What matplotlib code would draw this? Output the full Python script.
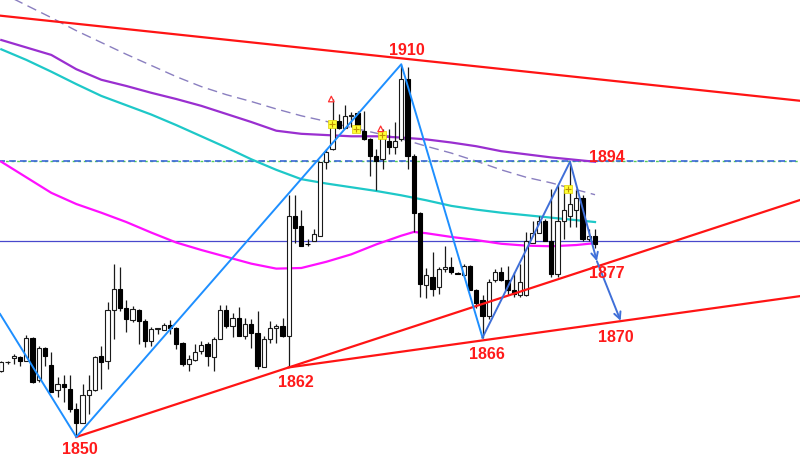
import numpy as np
import matplotlib.pyplot as plt

from matplotlib.figure import Figure
from matplotlib.axes import Axes

# candle data, one entry per bar (oldest first)
opens: list[float] = [
    1860.7, 1862.0, 1862.7, 1862.9, 1862.3, 1866.0, 1859.1, 1864.4, 1861.6, 1857.5,
    1858.5, 1857.8, 1854.5, 1852.3, 1856.7, 1857.5, 1863.1, 1862.3, 1870.4, 1873.8,
    1870.8, 1868.9, 1870.5, 1868.6, 1865.5, 1867.4, 1867.3, 1868.0, 1867.6, 1865.1,
    1861.7, 1862.4, 1863.9, 1864.9, 1862.9, 1865.8, 1870.4, 1867.8, 1869.1, 1866.3,
    1868.2, 1866.7, 1861.3, 1865.8, 1867.6, 1867.9, 1866.2, 1885.6, 1884.0, 1881.1,
    1881.6, 1882.4, 1894.2, 1896.3, 1900.9, 1899.8, 1901.6, 1902.2, 1899.3, 1898.0,
    1895.3, 1894.7, 1897.7, 1896.6, 1898.0, 1907.6, 1895.3, 1886.1, 1874.4, 1875.7,
    1874.2, 1877.0, 1877.4, 1876.4, 1876.0, 1877.6, 1873.7, 1872.0, 1869.5, 1875.2,
    1876.5, 1875.3, 1873.6, 1872.8, 1872.8, 1881.3, 1882.9, 1884.7, 1881.6, 1876.2,
    1884.8, 1885.6, 1886.5, 1888.5, 1881.9, 1882.3,
]
highs: list[float] = [
    1862.3, 1862.2, 1863.3, 1863.0, 1866.4, 1866.1, 1864.6, 1864.5, 1863.7, 1859.6,
    1859.9, 1859.9, 1855.5, 1858.5, 1860.0, 1863.1, 1864.7, 1871.7, 1877.8, 1877.4,
    1872.0, 1871.1, 1870.6, 1869.0, 1867.7, 1867.6, 1868.3, 1868.9, 1867.7, 1865.3,
    1863.2, 1865.0, 1865.4, 1865.3, 1866.1, 1871.2, 1871.2, 1870.0, 1871.0, 1869.1,
    1869.0, 1870.2, 1866.2, 1868.6, 1868.2, 1869.1, 1888.9, 1888.9, 1886.5, 1881.9,
    1883.5, 1894.3, 1896.4, 1904.4, 1902.0, 1903.4, 1902.3, 1902.5, 1902.5, 1898.1,
    1896.4, 1899.6, 1899.6, 1900.7, 1909.9, 1909.5, 1895.5, 1886.2, 1877.2, 1879.7,
    1877.4, 1880.7, 1878.9, 1876.5, 1877.8, 1877.7, 1873.9, 1872.8, 1875.4, 1877.0,
    1877.3, 1877.6, 1876.5, 1877.8, 1883.0, 1884.8, 1885.6, 1885.1, 1889.9, 1890.5,
    1889.9, 1893.8, 1889.7, 1888.9, 1883.5, 1883.5,
]
lows: list[float] = [
    1860.4, 1861.8, 1861.7, 1861.4, 1862.2, 1858.7, 1858.9, 1861.4, 1857.2, 1856.4,
    1855.6, 1854.0, 1850.0, 1852.2, 1853.7, 1857.4, 1857.7, 1860.9, 1865.8, 1870.3,
    1866.9, 1868.5, 1865.0, 1864.5, 1864.7, 1866.6, 1867.2, 1866.6, 1864.1, 1861.5,
    1860.7, 1862.2, 1863.3, 1861.5, 1860.7, 1865.7, 1867.5, 1866.1, 1866.2, 1865.8,
    1864.4, 1860.9, 1861.2, 1865.2, 1865.1, 1866.1, 1861.2, 1881.3, 1880.7, 1880.7,
    1881.5, 1882.3, 1893.1, 1896.2, 1899.6, 1899.7, 1899.9, 1899.2, 1897.8, 1892.0,
    1889.7, 1893.1, 1895.5, 1895.5, 1897.6, 1893.1, 1883.0, 1872.5, 1872.4, 1872.7,
    1873.0, 1876.5, 1876.2, 1876.2, 1875.9, 1873.6, 1870.8, 1865.9, 1869.0, 1874.9,
    1875.1, 1872.8, 1872.5, 1872.5, 1872.7, 1881.2, 1882.8, 1881.5, 1875.7, 1875.7,
    1881.9, 1883.8, 1883.8, 1881.6, 1881.6, 1880.4,
]
closes: list[float] = [
    1862.0, 1862.1, 1863.0, 1862.2, 1866.0, 1858.9, 1864.4, 1863.0, 1857.3, 1858.5,
    1858.0, 1854.5, 1852.3, 1856.7, 1857.5, 1862.9, 1862.1, 1870.4, 1873.8, 1870.8,
    1869.0, 1870.6, 1868.7, 1865.4, 1867.4, 1867.5, 1868.0, 1867.5, 1865.0, 1861.7,
    1862.5, 1863.7, 1864.8, 1863.1, 1865.8, 1870.4, 1867.8, 1869.1, 1866.3, 1868.2,
    1866.7, 1861.5, 1865.8, 1867.6, 1867.8, 1866.2, 1885.6, 1883.7, 1880.8, 1881.0,
    1882.7, 1894.2, 1895.9, 1900.9, 1899.8, 1901.6, 1901.9, 1899.3, 1898.0, 1895.3,
    1894.5, 1898.9, 1896.6, 1897.7, 1907.6, 1895.3, 1886.1, 1874.6, 1876.0, 1873.8,
    1877.1, 1877.4, 1876.6, 1876.3, 1877.6, 1873.7, 1871.6, 1869.5, 1875.0, 1876.5,
    1875.2, 1873.6, 1873.0, 1875.0, 1881.5, 1882.9, 1884.7, 1881.6, 1876.2, 1884.8,
    1886.5, 1887.5, 1888.5, 1881.9, 1882.3, 1881.1,
]

# moving averages read every 4 bars
ma_idx: list[int] = [0, 4, 8, 12, 16, 20, 24, 28, 32, 36, 40, 44, 48,
                     52, 56, 60, 64, 68, 72, 76, 80, 84, 88, 92, 95]
ma_purple: list[float] = [1913.9, 1912.7, 1911.5, 1909.2, 1907.5, 1906.5, 1905.4,
                          1904.4, 1903.3, 1902.0, 1900.7, 1899.3, 1898.8, 1898.6,
                          1898.4, 1898.4, 1898.2, 1897.9, 1897.4, 1896.8, 1896.0,
                          1895.5, 1895.0, 1894.6, 1894.3]
ma_cyan: list[float] = [1912.4, 1910.7, 1908.8, 1906.8, 1904.9, 1903.4, 1901.9,
                        1900.2, 1898.4, 1896.6, 1894.7, 1893.0, 1891.5, 1890.8,
                        1890.2, 1889.6, 1888.9, 1888.1, 1887.2, 1886.6, 1886.1,
                        1885.7, 1885.3, 1884.9, 1884.6]
ma_dash: list[float] = [1921.5, 1919.5, 1917.5, 1915.4, 1913.5, 1911.6, 1909.8,
                        1908.0, 1906.4, 1905.1, 1904.0, 1902.8, 1901.7, 1900.8,
                        1899.8, 1898.9, 1898.0, 1896.8, 1895.7, 1894.4, 1893.0,
                        1891.8, 1890.9, 1889.8, 1889.0]
mag_idx: list[int] = [0, 4, 8, 12, 16, 20, 24, 28, 32, 36, 40, 44, 48,
                      52, 56, 60, 64, 66, 68, 72, 76, 80, 84, 88, 92, 95]
ma_magenta: list[float] = [1894.3, 1891.8, 1889.3, 1887.5, 1886.1, 1884.6, 1882.9,
                           1881.3, 1880.1, 1879.0, 1877.9, 1877.1, 1877.2, 1878.2,
                           1879.4, 1881.0, 1882.4, 1883.0, 1882.8, 1882.2, 1881.7,
                           1881.1, 1880.8, 1880.7, 1880.9, 1881.2]

# horizontal levels
level_dashed: float = 1894.5
level_solid: float = 1881.5

# zigzag pivots
zig1_idx: list[float] = [-0.2, 12, 64, 77]
zig1_val: list[float] = [1869.8, 1850.0, 1910.0, 1866.0]
zig2_idx: list[float] = [77, 91]
zig2_val: list[float] = [1866.0, 1894.3]
proj_idx: list[float] = [91, 95.3, 99.1]
proj_val: list[float] = [1894.3, 1878.3, 1868.7]

# trend lines (two anchor points each)
trend_top: tuple = ((0, 1917.8), (128, 1904.1))
trend_low1: tuple = ((12, 1850.0), (46, 1861.2))
trend_low2: tuple = ((46, 1861.2), (128, 1872.7))

# pivot labels
label_text: list[str] = ["1910", "1894", "1877", "1870", "1866", "1862", "1850"]
label_x: list[float] = [64.9, 96.9, 96.9, 98.4, 77.7, 47.2, 12.6]
label_y: list[float] = [1912.4, 1895.2, 1876.5, 1866.2, 1863.5, 1859.0, 1848.2]

# signal markers
sig_x: list[float] = [52.9, 56.7, 60.9, 90.7]
sig_y: list[float] = [1900.4, 1899.6, 1898.6, 1889.9]
arrow_x: list[float] = [52.8, 60.7]
arrow_y: list[float] = [1904.4, 1899.6]


def main() -> None:
    fig: Figure = plt.figure(figsize=(8, 4.56), dpi=100)
    ax: Axes = fig.add_axes([0, 0, 1, 1])
    ax.set_xlim(-0.208, 127.8)
    ax.set_ylim(1847.1, 1920.5)
    ax.axis("off")

    # moving averages
    ax.plot(ma_idx, ma_dash, color="#8a7fc0", lw=1, dashes=(7, 4), zorder=1)
    ax.plot(ma_idx, ma_purple, color="#9a2fd0", lw=1.6, zorder=2)
    ax.plot(ma_idx, ma_cyan, color="#1ec8c8", lw=1.6, zorder=2)
    ax.plot(mag_idx, ma_magenta, color="#ff10ff", lw=1.6, zorder=2)

    # levels
    ax.axhline(level_dashed, color="#55cc55", lw=1, ls=(0, (2, 2)), zorder=1)
    ax.axhline(level_dashed, color="#3a66d8", lw=1.2, ls=(1, (4, 2.5)), zorder=1)
    ax.axhline(level_solid, color="#4848cc", lw=0.9, zorder=1)

    # candles
    x = np.arange(len(opens))
    o = np.array(opens)
    c = np.array(closes)
    ax.vlines(x, lows, highs, color="#1a1a1a", lw=0.9, zorder=3)
    up = c >= o
    ax.bar(x[up], np.maximum(c[up] - o[up], 0.08), bottom=o[up], width=0.7,
           color="white", edgecolor="#1a1a1a", lw=0.8, zorder=4)
    ax.bar(x[~up], o[~up] - c[~up], bottom=c[~up], width=0.7,
           color="black", edgecolor="black", lw=0.8, zorder=4)

    # trend lines
    ax.axline(*trend_top, color="#ff1414", lw=1.6, zorder=5)
    (x0, y0), (x1, y1) = trend_low1
    ax.plot([x0, 128], [y0, y0 + (128 - x0) * (y1 - y0) / (x1 - x0)],
            color="#ff1414", lw=1.6, zorder=5)
    ax.plot([trend_low2[0][0], trend_low2[1][0]], [trend_low2[0][1], trend_low2[1][1]],
            color="#ff1414", lw=1.6, zorder=5)

    # zigzag
    ax.plot(zig1_idx, zig1_val, color="#1e8fff", lw=1.4, zorder=6)
    ax.plot(zig2_idx, zig2_val, color="#3f6fd8", lw=1.4, zorder=6)
    for k in range(len(proj_idx) - 1):
        ax.annotate("", xy=(proj_idx[k + 1], proj_val[k + 1]),
                    xytext=(proj_idx[k], proj_val[k]),
                    arrowprops=dict(arrowstyle="->", color="#3f6fd8", lw=1.4,
                                    shrinkA=0, shrinkB=0, mutation_scale=12),
                    zorder=6)

    # signals
    ax.scatter(sig_x, sig_y, marker="s", s=40, color="#ffff33", edgecolor="#e0d000",
               lw=0.5, zorder=7)
    ax.scatter(sig_x, sig_y, marker="+", s=14, color="#c09000", lw=0.8, zorder=8)
    ax.scatter(arrow_x, arrow_y, marker="^", s=16, facecolor="none",
               edgecolor="#ff3030", lw=0.9, zorder=7)

    for t, lx, ly in zip(label_text, label_x, label_y):
        ax.text(lx, ly, t, color="#ff1a1a", fontsize=11.5, fontweight="bold",
                family="Liberation Sans", ha="center", va="center", zorder=9)

    fig.savefig("out.png", dpi=100, facecolor="white")


if __name__ == "__main__":
    main()
